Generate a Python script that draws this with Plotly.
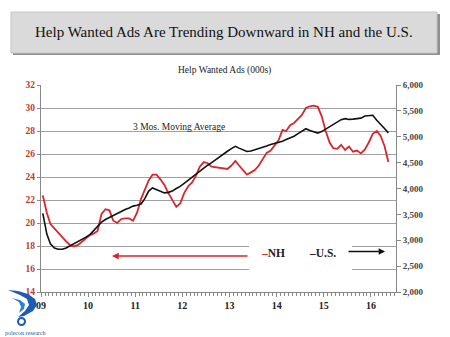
import pandas as pd
import plotly.graph_objects as go

# Monthly help wanted ads (000s), 3-month moving average, Jan 2009 - May 2016
nh_ads = [
    22.4, 20.9, 19.9, 19.5, 19.2, 18.8, 18.4, 18.05, 17.97, 18.1,
    18.4, 18.7, 18.95, 19.1, 19.3, 20.8, 21.2, 21.1, 20.2, 20.0,
    20.35, 20.4, 20.4, 20.2, 20.9, 22.1, 22.9, 23.7, 24.2, 24.2,
    23.8, 23.3, 22.6, 22.0, 21.4, 21.7, 22.6, 23.2, 23.5, 24.1,
    24.9, 25.3, 25.2, 24.9, 24.85, 24.8, 24.75, 24.7, 25.0, 25.4,
    25.0, 24.6, 24.2, 24.4, 24.6, 25.0, 25.6, 26.1, 26.3, 26.7,
    27.2, 28.1, 28.0, 28.5, 28.7, 29.05, 29.4, 30.0, 30.15, 30.2,
    30.1, 29.3, 28.0, 27.0, 26.5, 26.45, 26.8, 26.35, 26.65, 26.2,
    26.3, 26.05, 26.4, 27.0, 27.75, 28.0, 27.6, 26.7, 25.3,
]
us_ads = [
    3520, 3120, 2930, 2850, 2825, 2825, 2850, 2890, 2940, 2975,
    3010, 3060, 3110, 3200, 3280, 3350, 3400, 3440, 3490, 3525,
    3570, 3595, 3625, 3660, 3675, 3700, 3800, 3950, 4010, 3975,
    3940, 3915, 3925, 3950, 4000, 4040, 4100, 4160, 4220, 4290,
    4350, 4410, 4450, 4500, 4560, 4610, 4670, 4720, 4770, 4815,
    4780, 4750, 4715, 4725, 4745, 4765, 4795, 4820, 4850, 4870,
    4890, 4915, 4945, 4975, 5010, 5060, 5110, 5155, 5120, 5095,
    5070, 5100, 5145, 5190, 5240, 5290, 5330, 5350, 5335, 5340,
    5350, 5360, 5400, 5410, 5415, 5320, 5250, 5160, 5075,
]
months = pd.date_range("2009-01-01", periods=len(nh_ads), freq="MS") + pd.Timedelta(days=14)

W, H = 450, 337
ML, MR, MT, MB = 41, 54, 85, 45
PW, PH = W - ML - MR, H - MT - MB

RED = "#d9262c"
SERIF = "Liberation Serif, Times New Roman, serif"


def fx(px):
    return (px - ML) / PW


def fy(py):
    return (H - MB - py) / PH


fig = go.Figure()
fig.add_trace(go.Scatter(x=months, y=nh_ads, name="NH", mode="lines",
                         line=dict(color=RED, width=1.8), yaxis="y"))
fig.add_trace(go.Scatter(x=months, y=us_ads, name="U.S.", mode="lines",
                         line=dict(color="#111111", width=1.6), yaxis="y2"))

shapes = [
    # title banner with drop shadow
    dict(type="rect", xref="paper", yref="paper", x0=fx(13), x1=fx(440), y0=fy(55), y1=fy(14),
         fillcolor="#8f8f8f", line=dict(width=0), layer="above"),
    dict(type="rect", xref="paper", yref="paper", x0=fx(11), x1=fx(437), y0=fy(53), y1=fy(12),
         fillcolor="#dadada", line=dict(color="#c4c4c4", width=1), layer="above"),
    # white backing behind the legend
    dict(type="rect", xref="paper", yref="paper", x0=fx(249), x1=fx(352), y0=fy(272), y1=fy(242),
         fillcolor="white", line=dict(width=0), layer="above"),
]


def path(points):
    return "M" + " L".join(f"{fx(x):.4f},{fy(y):.4f}" for x, y in points) + " Z"


# logo swooshes
shapes += [
    dict(type="path", xref="paper", yref="paper", layer="above", line=dict(width=0), fillcolor="#1d5bb5",
         path=path([(8, 290), (18, 291), (28, 294), (35, 299), (37, 305), (33, 311), (24, 316),
                    (18, 317), (25, 311), (29, 305), (27, 299), (20, 295)])),
    dict(type="path", xref="paper", yref="paper", layer="above", line=dict(width=0), fillcolor="#2f7fd6",
         path=path([(12, 298), (20, 300), (25, 304), (24, 309), (19, 313), (21, 307), (19, 302)])),
    dict(type="circle", xref="paper", yref="paper", layer="above", line=dict(color="#1d5bb5", width=2),
         x0=fx(18), x1=fx(25), y0=fy(325), y1=fy(318)),
]

annotations = [
    dict(text="Help Wanted Ads Are Trending Downward in NH and the U.S.", x=fx(224), y=fy(32),
         font=dict(size=15, color="#111111")),
    dict(text="Help Wanted Ads (000s)", x=fx(224), y=fy(71), font=dict(size=9.5, color="#222222")),
    dict(text="3 Mos. Moving Average", x=fx(179), y=fy(127), font=dict(size=9.5, color="#222222")),
    dict(text=f'<b><span style="color:{RED}">–</span>NH</b>', x=fx(259), y=fy(253), xanchor="left",
         font=dict(size=11.5, color="#222222")),
    dict(text='<b>–U.S.</b>', x=fx(307), y=fy(253), xanchor="left", font=dict(size=11.5, color="#222222")),
    dict(text="polecon research", x=fx(25), y=fy(333), font=dict(size=6, color="#2a5aa0")),
    # axis pointers
    dict(text="", x=fx(112), y=fy(256), ax=137, ay=0, showarrow=True, arrowhead=2, arrowsize=0.9,
         arrowwidth=1.5, arrowcolor=RED),
    dict(text="", x=fx(385), y=fy(251.5), ax=-38, ay=0, showarrow=True, arrowhead=2, arrowsize=0.9,
         arrowwidth=1.4, arrowcolor="#111111"),
]
for a in annotations:
    a.setdefault("xref", "paper")
    a.setdefault("yref", "paper")
    a.setdefault("showarrow", False)
    a.setdefault("xanchor", "center")
    a.setdefault("yanchor", "middle")

fig.update_layout(
    width=W, height=H,
    margin=dict(l=ML, r=MR, t=MT, b=MB),
    paper_bgcolor="white", plot_bgcolor="white",
    font=dict(family=SERIF, color="#222222"),
    showlegend=False,
    shapes=shapes,
    annotations=annotations,
    xaxis=dict(
        type="date", range=["2009-01-01", "2016-07-13"],
        tick0="2009-01-01", dtick="M12", tickformat="%y",
        ticks="outside", ticklen=4, tickcolor="#888888",
        showline=True, linecolor="#888888", linewidth=1,
        showgrid=False, zeroline=False,
        tickfont=dict(size=10, color="#222222", weight="bold"),
        minor=dict(dtick="M1", tick0="2009-01-01", ticks="outside", ticklen=3,
                   tickcolor="#888888", showgrid=False),
    ),
    yaxis=dict(
        range=[14, 32], dtick=2, showgrid=True, gridcolor="#a0a0a0", gridwidth=1,
        showline=True, linecolor="#888888", ticks="outside", ticklen=3, tickcolor="#888888",
        zeroline=False, tickfont=dict(size=9.5, color="#c0392b", weight="bold"),
    ),
    yaxis2=dict(
        range=[2000, 6000], dtick=500, tickformat=",", overlaying="y", side="right",
        showgrid=False, showline=True, linecolor="#888888", ticks="outside", ticklen=4,
        tickcolor="#888888", zeroline=False, tickfont=dict(size=9, color="#444444", weight="bold"),
    ),
)

fig.write_html("out.html")
